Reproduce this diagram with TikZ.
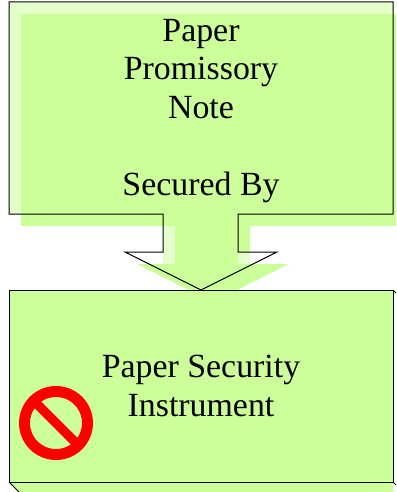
\documentclass[tikz,border=0pt]{standalone}
\usepackage{fontspec}
\setmainfont{Liberation Serif}
\definecolor{shadowgreen}{RGB}{204,255,153}
\definecolor{palegreen}{RGB}{229,255,204}
\definecolor{stopred}{RGB}{255,0,0}
\tikzset{
    outlinepen/.style={draw=black,line width=0.75pt},
    boxtext/.style={align=center,font=\fontsize{25.4}{29}\selectfont,text=black,inner sep=0pt},
}
\begin{document}
\begin{tikzpicture}[x=0.75pt,y=-0.75pt]
    \useasboundingbox (0,0) rectangle (396,492);
    \clip (0,0) rectangle (396,492);

    % Pale part of the callout
    \fill[palegreen] (9,2) -- (393,2) -- (393,214) -- (250,214) -- (250,264)
        -- (163,264) -- (163,214) -- (9,214) -- cycle;

    % Callout shadow
    \fill[shadowgreen] (21,14) -- (396,14) -- (396,226) -- (250,226) -- (250,252) -- (238,252)
        -- (238,264) -- (289,264) -- (213,302) -- (137,264) -- (175,264) -- (175,226) -- (21,226) -- cycle;

    % Callout outline
    \draw[outlinepen] (9,2) -- (393,2) -- (393,214) -- (238,214) -- (238,252)
        -- (277,252) -- (201,290) -- (125,252) -- (163,252) -- (163,214) -- (9,214) -- cycle;
    \node[boxtext] (promissory) at (201,111) {Paper\\Promissory\\Note\\[29pt]Secured By};

    % Lower box
    \fill[shadowgreen] (9,290) -- (393,290) -- (393,492) -- (19,492) -- (9,482) -- cycle;
    \draw[outlinepen] (9,290) rectangle (393,482);
    \draw[outlinepen] (9,482) -- (19,492);
    \draw[outlinepen] (393,290) -- (396,293);
    \draw[outlinepen] (393,482) -- (396,485);
    \node[boxtext] (instrument) at (201,386) {Paper Security\\Instrument};

    % Prohibition sign
    \draw[stopred,line width=8.25pt] (56,423) circle (31.5);
    \draw[stopred,line width=7pt] (36,403) -- (76,443);
\end{tikzpicture}
\end{document}
